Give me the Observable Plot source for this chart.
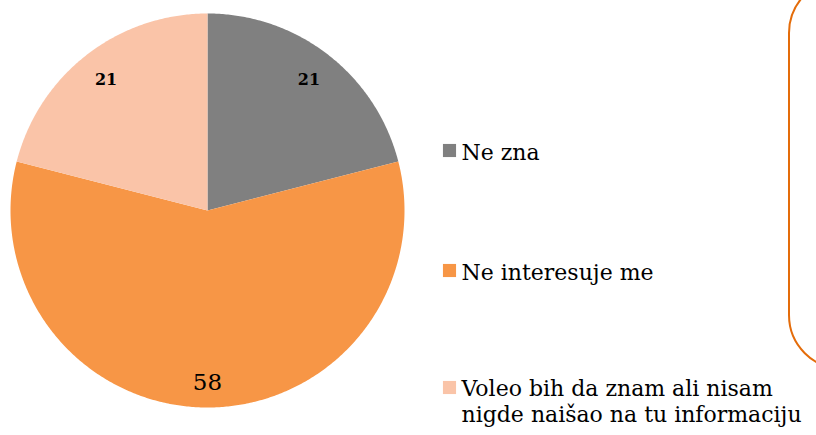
<!DOCTYPE html>
<html>
<head>
<meta charset="utf-8">
<script src="https://cdn.jsdelivr.net/npm/d3@7"></script>
<script src="https://cdn.jsdelivr.net/npm/@observablehq/plot@0.6"></script>
<style>
  html, body { margin: 0; padding: 0; background: #fff; overflow: hidden; }
  #wrap { position: relative; width: 816px; height: 435px; overflow: hidden; }
  #box { position: absolute; left: 788px; top: -22px; width: 120px; height: 392px;
         border: 2px solid #E46C0A; border-radius: 55px; box-sizing: border-box; }
</style>
</head>
<body>
<div id="wrap"><div id="box"></div></div>
<script>
const categories = ["Ne zna", "Ne interesuje me", "Voleo bih da znam ali nisam nigde naišao na tu informaciju"];
const legendLabels = ["Ne zna", "Ne interesuje me", "Voleo bih da znam ali nisam\nnigde naišao na tu informaciju"];
const values = [21, 58, 21];
const colors = ["#808080", "#F79646", "#FAC4A8"];

const W = 816, H = 435, CX = 207, CY = 210, R = 197;
const px = x => (x - CX) / R;
const py = y => (CY - y) / R;

const arcs = d3.pie().sort(null).value(d => d)(values);

function slicePoints(a, i) {
  const pts = [{cat: categories[i], u: 0, v: 0}];
  const n = Math.max(2, Math.ceil((a.endAngle - a.startAngle) / (Math.PI / 360)));
  for (let k = 0; k <= n; k++) {
    const t = a.startAngle + (a.endAngle - a.startAngle) * k / n;
    pts.push({cat: categories[i], u: Math.sin(t), v: Math.cos(t)});
  }
  return pts;
}

const sliceMarks = arcs.map((a, i) =>
  Plot.line(slicePoints(a, i), {x: "u", y: "v", fill: colors[i], stroke: "none", curve: "linear"})
);

const labelR = [0.84, 0.875, 0.84];
const labels = arcs.map((a, i) => {
  const m = (a.startAngle + a.endAngle) / 2;
  return {u: labelR[i] * Math.sin(m), v: labelR[i] * Math.cos(m), text: String(values[i]), big: i === 1};
});

const legendY = [151, 271, 400];
const legendSqY = [150, 270, 387];
const legend = categories.map((c, i) => ({
  sx: px(449), sy: py(legendSqY[i]), tx: px(461), ty: py(legendY[i]), label: legendLabels[i], color: colors[i]
}));

const chart = Plot.plot({
  width: W, height: H,
  margin: 0,
  x: {domain: [px(0), px(W)], axis: null},
  y: {domain: [py(H), py(0)], axis: null},
  style: {fontFamily: "'DejaVu Serif', serif", background: "transparent"},
  marks: [
    ...sliceMarks,
    Plot.text(labels.filter(d => !d.big), {x: "u", y: "v", text: "text", fontSize: 16, fontWeight: "bold", fill: "#000"}),
    Plot.text(labels.filter(d => d.big), {x: "u", y: "v", text: "text", fontSize: 23, fill: "#000"}),
    Plot.dot(legend, {x: "sx", y: "sy", symbol: "square", r: 7.4, fill: "color", stroke: "none"}),
    Plot.text(legend, {x: "tx", y: "ty", text: "label", textAnchor: "start", lineAnchor: "middle", lineHeight: 1.2, fontSize: 22, fill: "#000"})
  ]
});
chart.style.position = "absolute";
chart.style.left = "0px";
chart.style.top = "0px";
document.getElementById("wrap").prepend(chart);
</script>
</body>
</html>
